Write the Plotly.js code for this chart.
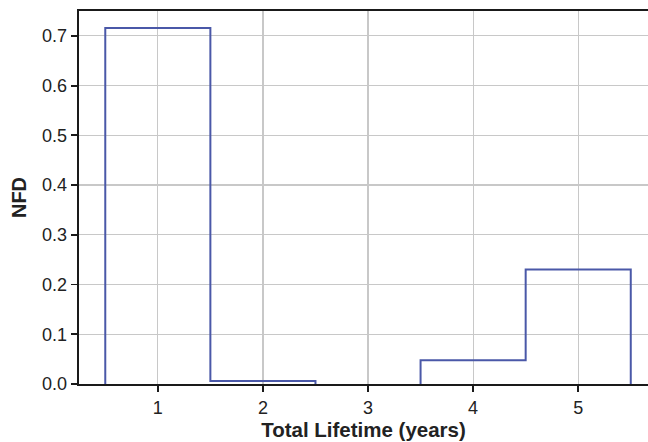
<!DOCTYPE html>
<html>
<head>
<meta charset="utf-8">
<script src="https://cdn.plot.ly/plotly-3.0.1.min.js"></script>
<style>html,body{margin:0;padding:0;background:#fff;}#chart{width:648px;height:442px;}</style>
</head>
<body>
<div id="chart"></div>
<script>
const lifetimeYears = [1, 2, 3, 4, 5];
const nfdValues = [0.716, 0.006, 0.0, 0.048, 0.230];
const xTickLabels = ['1', '2', '3', '4', '5'];
const yTickValues = [0, 0.1, 0.2, 0.3, 0.4, 0.5, 0.6, 0.7];
const yTickLabels = ['0.0', '0.1', '0.2', '0.3', '0.4', '0.5', '0.6', '0.7'];

// Build a step outline (histtype='step') from bin centres and values.
// Segments lying on the baseline are hidden behind the axis spine, so break the line there.
const binWidth = 1;
const stepX = [lifetimeYears[0] - binWidth / 2];
const stepY = [0];
lifetimeYears.forEach((c, i) => {
  const v = nfdValues[i];
  if (v === 0) {
    stepX.push(c - binWidth / 2, null, c + binWidth / 2);
    stepY.push(0, null, 0);
  } else {
    stepX.push(c - binWidth / 2, c + binWidth / 2);
    stepY.push(v, v);
  }
});
stepX.push(lifetimeYears[lifetimeYears.length - 1] + binWidth / 2);
stepY.push(0);

const trace = {
  x: stepX, y: stepY, type: 'scatter', mode: 'lines', connectgaps: false,
  line: {color: '#4a58a8', width: 2},
  hoverinfo: 'skip', showlegend: false
};

const layout = {
  width: 648, height: 442,
  margin: {l: 79, r: 0, t: 11, b: 58},
  paper_bgcolor: '#ffffff', plot_bgcolor: '#ffffff',
  font: {family: 'Liberation Sans, Arial, sans-serif', color: '#222222', size: 18},
  showlegend: false,
  xaxis: {
    range: [0.25, 5.664], tickmode: 'array', tickvals: lifetimeYears, ticktext: xTickLabels,
    showgrid: true, gridcolor: '#c8c8c8', gridwidth: 1.2,
    showline: true, linecolor: '#1a1a1a', linewidth: 2.4, mirror: true,
    ticks: 'outside', ticklen: 6, tickwidth: 1.8, tickcolor: '#1a1a1a',
    zeroline: false, tickfont: {size: 18, color: '#222222'},
    title: {text: '<b>Total Lifetime (years)</b>', font: {size: 20.5, color: '#222222'}, standoff: 6}
  },
  yaxis: {
    range: [0, 0.75], tickmode: 'array', tickvals: yTickValues, ticktext: yTickLabels,
    showgrid: true, gridcolor: '#c8c8c8', gridwidth: 1.2,
    showline: true, linecolor: '#1a1a1a', linewidth: 2.4, mirror: false,
    ticks: 'outside', ticklen: 6, tickwidth: 1.8, tickcolor: '#1a1a1a',
    zeroline: false, tickfont: {size: 18, color: '#222222'},
    title: {text: '<b>NFD</b>', font: {size: 20, color: '#222222'}, standoff: 10}
  }
};

Plotly.newPlot('chart', [trace], layout, {displayModeBar: false, staticPlot: true});
</script>
</body>
</html>
